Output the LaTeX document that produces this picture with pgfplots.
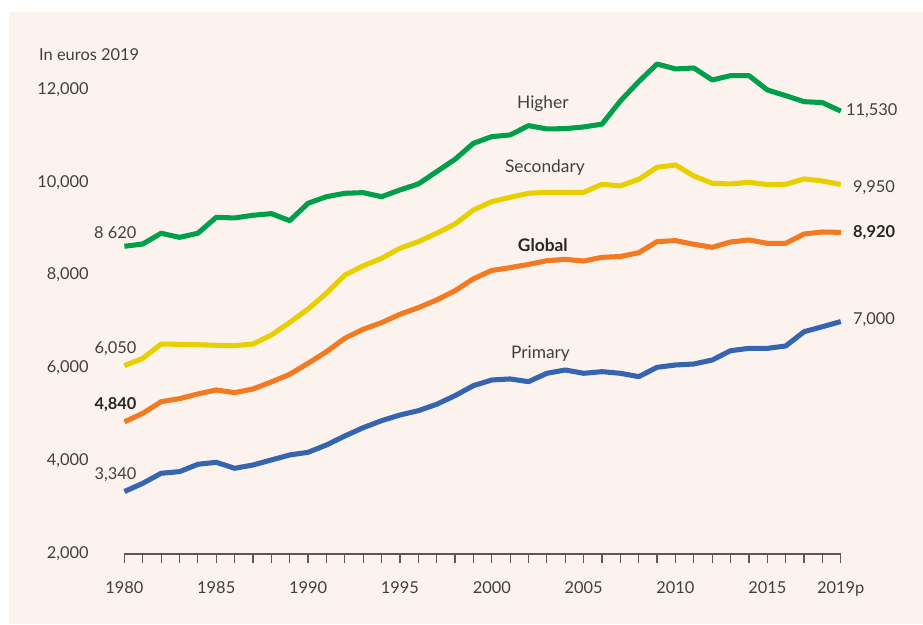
\documentclass[border=0pt]{standalone}
\usepackage{pgfplots}
\pgfplotsset{compat=1.18}
\usepackage{fontspec}
\setmainfont{Lato}
\definecolor{bgpink}{HTML}{FDF3EE}
\definecolor{cgreen}{HTML}{00A04A}
\definecolor{cyellow}{HTML}{E9CF00}
\definecolor{corange}{HTML}{F47A22}
\definecolor{cblue}{HTML}{3565B1}
\definecolor{txt}{HTML}{404040}
\definecolor{gridc}{HTML}{BDBDBD}
\definecolor{axc}{HTML}{5A5A5A}
\pgfplotstableread{
year higher secondary global primary
1980 8620 6050 4840 3340
1981 8670 6208 5024 3518
1982 8900 6516 5275 3733
1983 8813 6509 5340 3769
1984 8900 6502 5441 3927
1985 9244 6488 5527 3970
1986 9230 6481 5469 3841
1987 9288 6516 5548 3912
1988 9323 6710 5699 4020
1989 9172 6980 5864 4128
1990 9546 7270 6101 4185
1991 9688 7609 6351 4343
1992 9761 8000 6639 4536
1993 9775 8200 6833 4715
1994 9688 8361 6976 4866
1995 9833 8577 7156 4988
1996 9962 8720 7298 5081
1997 10227 8900 7464 5219
1998 10493 9100 7664 5405
1999 10837 9402 7920 5620
2000 10981 9581 8100 5742
2001 11017 9675 8160 5764
2002 11218 9761 8230 5706
2003 11146 9782 8310 5886
2004 11153 9782 8339 5957
2005 11189 9782 8303 5886
2006 11250 9955 8382 5921
2007 11750 9920 8400 5886
2008 12165 10062 8483 5814
2009 12545 10321 8720 6015
2010 12438 10371 8742 6065
2011 12459 10134 8663 6086
2012 12201 9976 8598 6172
2013 12294 9962 8713 6373
2014 12294 9998 8756 6423
2015 11986 9947 8684 6423
2016 11863 9955 8684 6473
2017 11734 10070 8885 6781
2018 11713 10026 8928 6889
2019 11530 9950 8920 7000
}\datatable
\begin{document}
\begin{tikzpicture}
\fill[white] (-93.3pt,415.35pt) rectangle (598.95pt,-52.65pt);
\fill[bgpink] (-86.55pt,406.35pt) rectangle (598.95pt,-52.65pt);
\path[use as bounding box] (-93.3pt,415.35pt) rectangle (598.95pt,-52.65pt);
\begin{axis}[
  at={(0,0)}, anchor=south west,
  scale only axis,
  width=537.3pt, height=369.28pt,
  xmin=1980, xmax=2019,
  ymin=2000, ymax=12600,
  clip=false,
  axis x line*=bottom,
  axis y line=none,
  axis line style={axc, line width=1.1pt},
  x axis line style={-},
  xtick={1980,1985,1990,1995,2000,2005,2010,2015,2019},
  xticklabels={1980,1985,1990,1995,2000,2005,2010,2015,2019p},
  minor xtick={1980,...,2019},
  tick align=outside,
  major tick length=7pt, minor tick length=7pt,
  every tick/.style={axc, line width=0.9pt},
  xticklabel style={font=\fontsize{12.3}{14}\selectfont, text=txt, anchor=base, yshift=-23pt},
  ytick={4000,6000,8000,10000,12000},
  yticklabels={},
  ymajorgrids,
  grid style={gridc, line width=1pt},
]
\pgfplotsextra{
  \foreach \v/\l in {2000/{2,000},4000/{4,000},6000/{6,000},8000/{8,000},10000/{10,000},12000/{12,000}}{
    \node[anchor=east, font=\fontsize{12.3}{14}\selectfont, text=txt, inner sep=0pt] at (axis cs:1978.07,\v) {\l};
  }
}
\addplot[cgreen, line width=3.8pt, line join=round] table[x=year, y=higher] {\datatable};
\addplot[cyellow, line width=3.8pt, line join=round] table[x=year, y=secondary] {\datatable};
\addplot[corange, line width=3.8pt, line join=round] table[x=year, y=global] {\datatable};
\addplot[cblue, line width=3.8pt, line join=round] table[x=year, y=primary] {\datatable};
\begin{scope}[every node/.style={font=\fontsize{12.3}{14}\selectfont, text=txt, inner sep=0pt}]
\node[anchor=base west] at (axis cs:1975.35,12616) {In euros 2019};
\node[anchor=base east] at (axis cs:1980.67,8793) {8 620};
\node[anchor=base east] at (axis cs:1980.67,6302) {6,050};
\node[anchor=base east, text=black!85] at (axis cs:1980.67,5096) {\bfseries 4,840};
\node[anchor=base east] at (axis cs:1980.67,3589) {3,340};
\node[anchor=base west] at (axis cs:2019.28,11426) {11,530};
\node[anchor=base west] at (axis cs:2019.66,9783) {9,950};
\node[anchor=base west, text=black!85] at (axis cs:2019.66,8814) {\bfseries 8,920};
\node[anchor=base west] at (axis cs:2019.66,6926) {7,000};
\node[anchor=base, font=\fontsize{13}{15}\selectfont] at (axis cs:2002.78,11576) {Higher};
\node[anchor=base, font=\fontsize{13}{15}\selectfont] at (axis cs:2002.89,10205) {Secondary};
\node[anchor=base, font=\fontsize{13}{15}\selectfont\bfseries, text=black!85] at (axis cs:2002.78,8504) {Global};
\node[anchor=base, font=\fontsize{13}{15}\selectfont] at (axis cs:2002.65,6209) {Primary};
\end{scope}
\end{axis}
\end{tikzpicture}
\end{document}
